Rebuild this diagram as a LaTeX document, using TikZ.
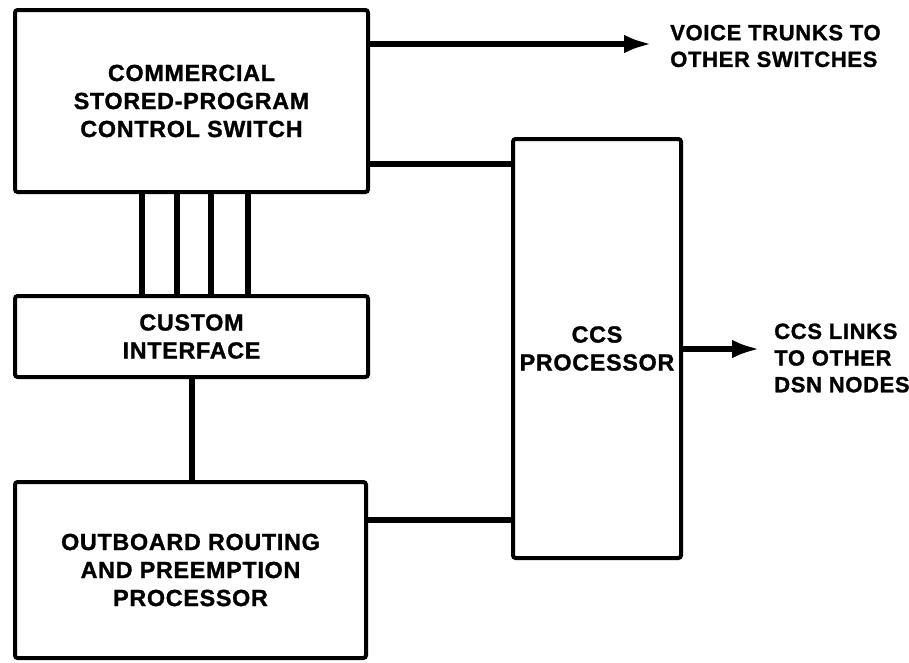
\documentclass[tikz,border=0pt]{standalone}
\usepackage{fontspec}
\setmainfont{Liberation Sans}
\newfontfamily\heavyfont[FakeBold=1.2,LetterSpace=3]{Liberation Sans}
\usepackage{tikz}
\usetikzlibrary{arrows.meta,calc,positioning}

\begin{document}
\begin{tikzpicture}[>={Latex[length=21pt,width=14pt]},x=0.75pt,y=-0.75pt,
    blk/.style={draw,line width=3pt,rounded corners=2pt,align=center,
      font=\heavyfont\bfseries\fontsize{17.5}{21}\selectfont},
    bus/.style={line width=5pt},
    link/.style={line width=4.5pt},
    lbl/.style={anchor=west,inner sep=0pt,align=left,
      font=\heavyfont\bfseries\fontsize{16.5}{20}\selectfont}]
    \useasboundingbox (0,0) rectangle (909,662);
    \node[blk,minimum width=264.75pt,minimum height=136.5pt] (sw) at (191.5,101)
      {COMMERCIAL\\STORED-PROGRAM\\CONTROL SWITCH};
    \node[blk,minimum width=264.75pt,minimum height=60.75pt] (ci) at (191.5,336.5)
      {CUSTOM\\INTERFACE};
    \node[blk,minimum width=263.25pt,minimum height=132pt] (ob) at (190.5,570)
      {OUTBOARD ROUTING\\AND PREEMPTION\\PROCESSOR};
    \node[blk,minimum width=126pt,minimum height=314.25pt] (ccs) at (597,348.5)
      {CCS\\PROCESSOR};
    \foreach \x in {142,177,211,248}
      \draw[bus] (\x,0 |- sw.south) -- (\x,0 |- ci.north);
    \draw[link] (ci.south) -- (ci.south |- ob.north);
    \draw[link] (sw.east |- 0,164) -- (ccs.west |- 0,164);
    \draw[link] (ob.east |- 0,520) -- (ccs.west |- 0,520);
    \coordinate (vtip) at (652,44);
    \coordinate (ltip) at (760,349);
    \draw[link,->] (sw.east |- vtip) -- (vtip);
    \draw[link,->] (ccs.east |- ltip) -- (ltip);
    \node[lbl] (vtxt) at (670,46) {VOICE TRUNKS TO\\OTHER SWITCHES};
    \node[lbl] (ltxt) at (774,358) {CCS LINKS\\TO OTHER\\DSN NODES};
\end{tikzpicture}
\end{document}
